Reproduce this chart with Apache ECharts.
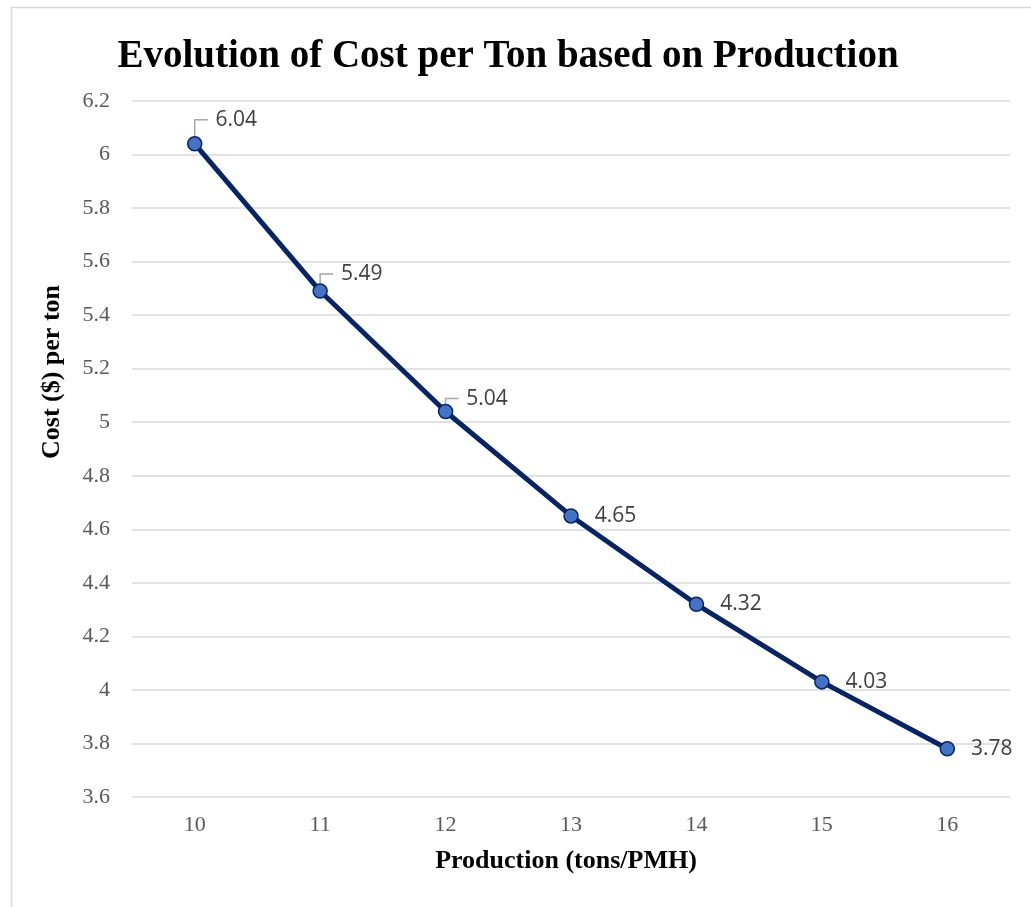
<!DOCTYPE html>
<html>
<head>
<meta charset="utf-8">
<script src="https://cdn.jsdelivr.net/npm/echarts@6/dist/echarts.min.js"></script>
<style>
html,body{margin:0;padding:0;background:#fff;}
#chart{width:1031px;height:907px;}
</style>
</head>
<body>
<div id="chart"></div>
<script>
const titleText = "Evolution of Cost per Ton based on Production";
const xAxisName = "Production (tons/PMH)";
const yAxisName = "Cost ($) per ton";
const categories = ["10", "11", "12", "13", "14", "15", "16"];
const costValues = [6.04, 5.49, 5.04, 4.65, 4.32, 4.03, 3.78];
const yMin = 3.6, yMax = 6.2, yStep = 0.2;
const leaderCount = 3;
const leaderDy = [-24, -17, -13];

const chart = echarts.init(document.getElementById('chart'));
const serif = "'Liberation Serif','Times New Roman',serif";

const leaderData = costValues.slice(0, leaderCount).map((v, i) => [i, v]);

const option = {
  animation: false,
  backgroundColor: '#ffffff',
  title: {
    text: titleText,
    left: 503,
    top: 32,
    textAlign: 'center',
    textStyle: { fontFamily: serif, fontWeight: 'bold', fontSize: 39, color: '#000' }
  },
  graphic: [
    { type: 'rect', left: 9, top: 5, shape: { width: 1040, height: 920 },
      style: { fill: 'none', stroke: '#d9d9d9', lineWidth: 1.5 }, silent: true, z: -10 },
    { type: 'text', x: 52, y: 372, rotation: Math.PI / 2,
      style: { text: yAxisName, fontFamily: serif, fontWeight: 'bold', fontSize: 26, fill: '#000',
               textAlign: 'center', textVerticalAlign: 'middle' } },
    { type: 'text', x: 566, y: 861,
      style: { text: xAxisName, fontFamily: serif, fontWeight: 'bold', fontSize: 26, fill: '#000',
               textAlign: 'center', textVerticalAlign: 'middle' } }
  ],
  grid: { left: 132, right: 21, top: 101, bottom: 110, containLabel: false },
  xAxis: {
    type: 'category',
    data: categories,
    boundaryGap: true,
    axisLine: { show: false },
    axisTick: { show: false },
    axisLabel: { fontFamily: serif, fontSize: 22, color: '#595959', margin: 17 }
  },
  yAxis: {
    type: 'value',
    min: yMin, max: yMax, interval: yStep,
    axisLine: { show: false },
    axisTick: { show: false },
    splitLine: { lineStyle: { color: '#d9d9d9', width: 1.5 } },
    axisLabel: {
      fontFamily: serif, fontSize: 22, color: '#595959', margin: 22,
      formatter: v => String(parseFloat(v.toFixed(2)))
    }
  },
  series: [{
    type: 'custom',
    data: leaderData,
    z: 3,
    silent: true,
    renderItem: function (params, api) {
      const idx = api.value(0);
      const p = api.coord([idx, api.value(1)]);
      const dy = leaderDy[params.dataIndex];
      return {
        type: 'polyline',
        shape: { points: [[p[0], p[1] - 5], [p[0], p[1] + dy], [p[0] + 13, p[1] + dy]] },
        style: { stroke: '#a6a6a6', lineWidth: 1.5, fill: 'none' }
      };
    }
  }, {
    type: 'line',
    data: costValues,
    symbol: 'circle',
    symbolSize: 14,
    lineStyle: { color: '#062466', width: 5 },
    itemStyle: { color: '#4472C4', borderColor: '#062466', borderWidth: 1.5 },
    label: {
      show: true,
      position: 'right',
      distance: 16,
      fontFamily: "'Open Sans','Noto Sans',sans-serif",
      fontSize: 21,
      color: '#404040'
    },
    labelLayout: function (params) {
      if (params.dataIndex < leaderCount) {
        return { dx: -3, dy: leaderDy[params.dataIndex] };
      }
      return {};
    },
    z: 5
  }]
};
chart.setOption(option);
</script>
</body>
</html>
